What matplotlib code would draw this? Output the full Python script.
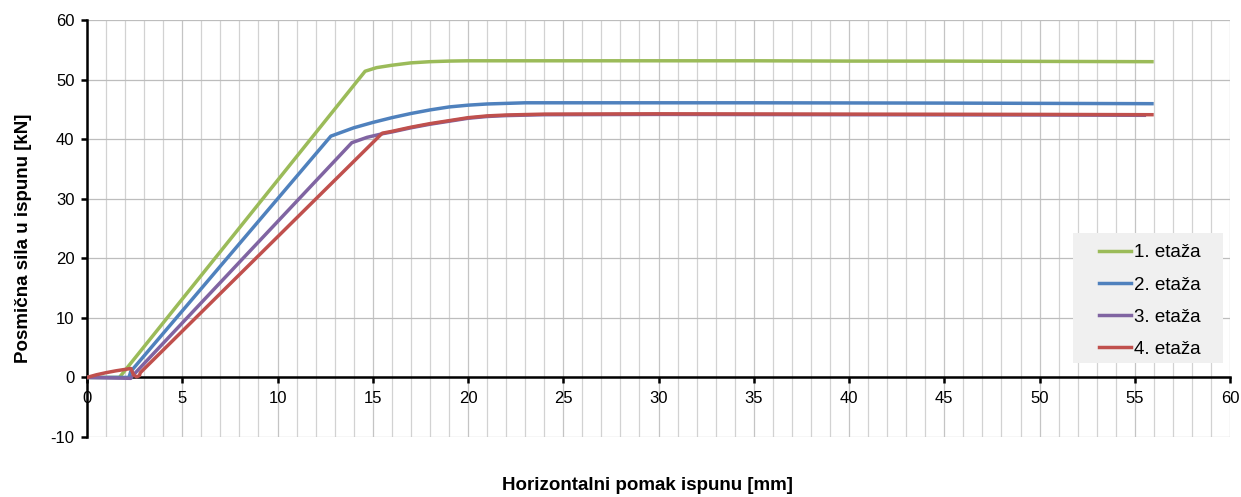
import matplotlib.pyplot as plt
from matplotlib.patches import Rectangle
import numpy as np

plt.rcParams['font.family'] = ['Liberation Sans Narrow', 'Liberation Sans', 'DejaVu Sans']
plt.rcParams['axes.unicode_minus'] = False

# podaci očitani s dijagrama
x_e1 = [0, 1.7, 14.6, 15.2, 16, 17, 18, 19, 20, 22, 25, 30, 35, 40, 45, 50, 55.9]
y_e1 = [0, 0, 51.4, 52.0, 52.4, 52.8, 53.0, 53.1, 53.15, 53.15, 53.15, 53.15, 53.15, 53.1, 53.1, 53.05, 53.0]

x_e2 = [0, 2.2, 2.3, 12.8, 14, 15, 16, 17, 18, 19, 20, 21, 23, 25, 35, 45, 55.9]
y_e2 = [0, 0, 1.0, 40.5, 41.9, 42.8, 43.6, 44.3, 44.9, 45.4, 45.7, 45.9, 46.1, 46.1, 46.1, 46.05, 45.95]

x_e3 = [0, 2.3, 2.4, 13.9, 14.7, 15.5, 16, 17, 18, 19, 20, 21, 22, 24, 30, 40, 50, 55.5]
y_e3 = [0, -0.15, 0.3, 39.4, 40.3, 40.9, 41.2, 41.9, 42.5, 43.0, 43.5, 43.8, 43.95, 44.1, 44.15, 44.1, 44.05, 44.0]

x_e4 = [0, 0.5, 1.0, 1.5, 2.0, 2.3, 2.45, 2.6, 2.75, 2.8, 15.5, 16, 17, 18, 19, 20, 21, 22, 24, 30, 40, 50, 55.9]
y_e4 = [0, 0.45, 0.8, 1.1, 1.35, 1.5, 0.4, 0.1, 0.3, 0.8, 41.0, 41.3, 42.0, 42.6, 43.1, 43.6, 43.9, 44.05, 44.2, 44.25, 44.2, 44.15, 44.1]

series = [
    (x_e1, y_e1, '1. etaža', '#9bbb59'),
    (x_e2, y_e2, '2. etaža', '#4f81bd'),
    (x_e3, y_e3, '3. etaža', '#8064a2'),
    (x_e4, y_e4, '4. etaža', '#c0504d'),
]

fig = plt.figure(figsize=(12.41, 4.97), dpi=100)
ax = fig.add_axes([0.0701, 0.1207, 0.9211, 0.8391])

for xs, ys, lab, col in series:
    ax.plot(xs, ys, color=col, lw=2.5, label=lab, solid_joinstyle='round', zorder=3)

ax.set_xlim(0, 60)
ax.set_ylim(-10, 60)
ax.set_xticks(np.arange(0, 61, 5))
ax.set_yticks(np.arange(-10, 61, 10))
ax.set_xticks(np.arange(0, 61, 1), minor=True)

# mreža
ax.grid(True, which='minor', axis='x', color='#d2d2d2', lw=0.9)
ax.grid(True, which='major', axis='x', color='#c4c4c4', lw=0.9)
ax.grid(True, which='major', axis='y', color='#bdbdbd', lw=0.9)
ax.set_axisbelow(True)

ax.spines['left'].set_position(('data', 0))
ax.spines['bottom'].set_position(('data', 0))
for s in ['left', 'bottom']:
    ax.spines[s].set_linewidth(1.8)
for s in ['top', 'right']:
    ax.spines[s].set_visible(False)

ax.tick_params(axis='both', which='major', direction='out', length=4, width=1.8,
               labelsize=12, colors='black')
ax.tick_params(axis='x', which='major', pad=6)
ax.tick_params(axis='y', which='major', pad=5)
ax.tick_params(axis='x', which='minor', length=0)

fig.text(0.019, 0.521, 'Posmična sila u ispunu [kN]', rotation=90, fontsize=13.5,
         fontweight='bold', ha='center', va='center')
fig.text(0.522, 0.024, 'Horizontalni pomak ispunu [mm]', fontsize=13.5,
         fontweight='bold', ha='center', va='center')

# siva podloga legende
ax.add_patch(Rectangle((0.8626, 0.1775), 0.1313, 0.3117, transform=ax.transAxes,
                       facecolor='#f0f0f0', edgecolor='none', zorder=2.5))
leg = ax.legend(loc='center', bbox_to_anchor=(0.930, 0.326), borderaxespad=0,
                fontsize=13.5, frameon=False, handlelength=1.7, handletextpad=0.15,
                labelspacing=0.8, borderpad=0)
leg.set_zorder(5)

plt.savefig('out.png', dpi=100)
